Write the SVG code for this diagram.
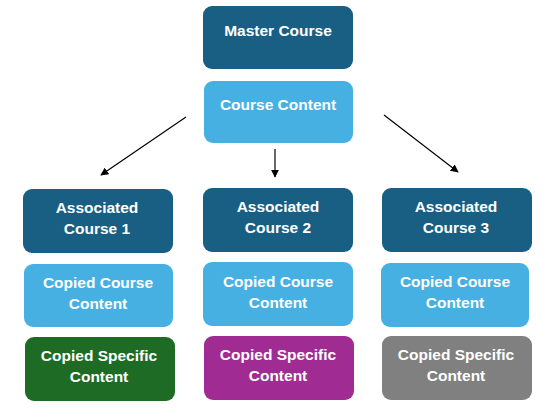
<svg xmlns="http://www.w3.org/2000/svg" width="558" height="420" viewBox="0 0 558 420">
<defs>
<style>
.dk{fill:#185F83}
.lt{fill:#47B0E2}
.gr{fill:#1E6B25}
.pu{fill:#A02B93}
.gy{fill:#808080}
text{font-family:"Liberation Sans",Arial,sans-serif;font-weight:bold;font-size:15.5px;fill:#fff;text-anchor:middle}
.cn line{stroke:#000;stroke-width:1.2;marker-end:url(#ah)}
</style>
<marker id="ah" viewBox="0 0 10 10" refX="9" refY="5" markerWidth="8" markerHeight="8" orient="auto" markerUnits="userSpaceOnUse"><path d="M0,0 L10,5 L0,10 z" fill="#000"/></marker>
</defs>
<rect width="558" height="420" fill="#fff"/>
<g id="master"><rect class="dk" x="203" y="6" width="150" height="63" rx="9"/><text x="278" y="36">Master Course</text></g>
<g id="content"><rect class="lt" x="204" y="81" width="149" height="62" rx="9"/><text x="278" y="110">Course Content</text></g>
<g class="cn" id="connectors">
<line x1="186" y1="117" x2="101" y2="175"/>
<line x1="275" y1="149" x2="275" y2="177"/>
<line x1="384" y1="115" x2="458" y2="172"/>
</g>
<g id="assoc1"><rect class="dk" x="23" y="189" width="150" height="64" rx="9"/><text x="97" y="213">Associated</text><text x="97" y="234">Course 1</text></g>
<g id="assoc2"><rect class="dk" x="203" y="188" width="150" height="64" rx="9"/><text x="278" y="212">Associated</text><text x="278" y="233">Course 2</text></g>
<g id="assoc3"><rect class="dk" x="382" y="188" width="150" height="64" rx="9"/><text x="456" y="212">Associated</text><text x="456" y="233">Course 3</text></g>
<g id="copy1"><rect class="lt" x="24" y="264" width="149" height="63" rx="9"/><text x="98" y="288">Copied Course</text><text x="98" y="309">Content</text></g>
<g id="copy2"><rect class="lt" x="203" y="262" width="150" height="64" rx="9"/><text x="278" y="287">Copied Course</text><text x="278" y="308">Content</text></g>
<g id="copy3"><rect class="lt" x="381" y="263" width="148" height="64" rx="9"/><text x="455" y="287">Copied Course</text><text x="455" y="308">Content</text></g>
<g id="spec1"><rect class="gr" x="25" y="337" width="150" height="64" rx="9"/><text x="99" y="361">Copied Specific</text><text x="99" y="382">Content</text></g>
<g id="spec2"><rect class="pu" x="204" y="336" width="150" height="64" rx="9"/><text x="278" y="360">Copied Specific</text><text x="278" y="381">Content</text></g>
<g id="spec3"><rect class="gy" x="382" y="336" width="150" height="64" rx="9"/><text x="456" y="360">Copied Specific</text><text x="456" y="381">Content</text></g>
</svg>
